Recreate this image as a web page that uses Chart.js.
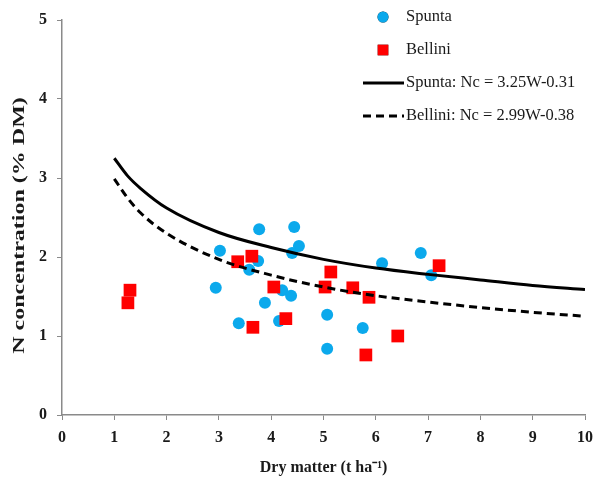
<!DOCTYPE html>
<html>
<head>
<meta charset="utf-8">
<script src="https://cdn.jsdelivr.net/npm/chart.js@4.4.1/dist/chart.umd.min.js"></script>
<style>
  html, body { margin: 0; padding: 0; background: #fff; }
</style>
</head>
<body>
<canvas id="myChart" width="595" height="482"></canvas>
<script>
// measured points (dry matter t/ha, N %)
const spuntaW = [3.77, 4.44, 3.02, 4.53, 4.40, 3.75, 3.58, 2.94, 4.21, 4.38, 3.88, 3.38, 4.15, 6.12, 5.07, 5.75, 5.07, 6.86, 7.06];
const spuntaN = [2.35, 2.38, 2.08, 2.14, 2.05, 1.95, 1.84, 1.61, 1.58, 1.51, 1.42, 1.16, 1.19, 1.92, 1.27, 1.10, 0.84, 2.05, 1.77];
const belliniW = [3.36, 3.63, 4.05, 4.28, 3.65, 5.14, 5.03, 5.56, 5.87, 6.42, 5.81, 7.21, 1.30, 1.26];
const belliniN = [1.94, 2.01, 1.62, 1.22, 1.11, 1.81, 1.62, 1.61, 1.49, 1.00, 0.76, 1.89, 1.58, 1.42];

// critical dilution curves
const curveW = [1, 1.25, 1.5, 2, 3, 4, 5, 6, 7, 8, 9, 10];
const spuntaCurve = [3.25, 3.03, 2.87, 2.62, 2.31, 2.12, 1.97, 1.86, 1.78, 1.71, 1.64, 1.59];
const belliniCurve = [2.99, 2.75, 2.56, 2.30, 1.97, 1.77, 1.62, 1.51, 1.43, 1.36, 1.30, 1.25];

const xTicks = [0, 1, 2, 3, 4, 5, 6, 7, 8, 9, 10];
const yTicks = [0, 1, 2, 3, 4, 5];

const toXY = (xs, ys) => xs.map((x, i) => ({x: x, y: ys[i]}));

const blue = '#0BA9EC';
const red = '#FF0000';
const axisGrey = '#8a8a8a';
const textDark = '#1a1a1a';

// legend drawn in the top right corner, like the original
const cornerLegend = {
  id: 'cornerLegend',
  afterDraw(chart) {
    const ctx = chart.ctx;
    const ds = chart.data.datasets;
    const rows = [
      {d: ds[3], y: 17},
      {d: ds[2], y: 50},
      {d: ds[0], y: 83},
      {d: ds[1], y: 116}
    ];
    ctx.save();
    ctx.font = '16.5px "Liberation Serif"';
    ctx.textBaseline = 'middle';
    rows.forEach(r => {
      const d = r.d;
      if (d.showLine) {
        ctx.strokeStyle = d.borderColor;
        ctx.lineWidth = d.borderWidth;
        ctx.setLineDash(d.borderDash || []);
        ctx.beginPath();
        ctx.moveTo(363, r.y);
        ctx.lineTo(404, r.y);
        ctx.stroke();
        ctx.setLineDash([]);
      } else {
        Chart.helpers.drawPoint(ctx, {
          pointStyle: d.pointStyle,
          radius: d.pointStyle === 'rect' ? 7.5 : 5.5,
          rotation: 0,
          borderWidth: 0
        }, 383, r.y);
        ctx.fillStyle = d.backgroundColor;
        ctx.fill();
      }
      ctx.fillStyle = textDark;
      ctx.fillText(d.label, 406, r.y);
    });
    ctx.restore();
  }
};

// y title is stretched along its length in the original
const yTitle = {
  id: 'yTitle',
  afterDraw(chart) {
    const ctx = chart.ctx;
    const area = chart.chartArea;
    ctx.save();
    ctx.translate(20, (area.top + area.bottom) / 2 + 8);
    ctx.rotate(-Math.PI / 2);
    ctx.scale(1.5, 1);
    ctx.font = 'bold 16px "Liberation Serif"';
    ctx.fillStyle = textDark;
    ctx.textAlign = 'center';
    ctx.textBaseline = 'middle';
    ctx.fillText('N concentration (% DM)', 0, 0);
    ctx.restore();
  }
};

const ctx = document.getElementById('myChart').getContext('2d');
const myChart = new Chart(ctx, {
  type: 'scatter',
  data: {
    datasets: [{
      label: 'Spunta: Nc = 3.25W-0.31',
      data: toXY(curveW, spuntaCurve),
      showLine: true,
      borderColor: '#000',
      borderWidth: 3,
      pointRadius: 0,
      cubicInterpolationMode: 'monotone'
    }, {
      label: 'Bellini: Nc = 2.99W-0.38',
      data: toXY(curveW, belliniCurve),
      showLine: true,
      borderColor: '#000',
      borderWidth: 3,
      borderDash: [8, 5],
      pointRadius: 0,
      cubicInterpolationMode: 'monotone'
    }, {
      label: 'Bellini',
      data: toXY(belliniW, belliniN),
      pointStyle: 'rect',
      pointRadius: 9,
      backgroundColor: red,
      borderWidth: 0
    }, {
      label: 'Spunta',
      data: toXY(spuntaW, spuntaN),
      pointStyle: 'circle',
      pointRadius: 6,
      backgroundColor: blue,
      borderWidth: 0
    }]
  },
  options: {
    responsive: false,
    animation: false,
    layout: {padding: {top: 20, right: 10, left: 0, bottom: 0}},
    plugins: {
      legend: {display: false},
      tooltip: {enabled: false}
    },
    scales: {
      x: {
        min: 0,
        max: 10,
        afterBuildTicks: s => { s.ticks = xTicks.map(v => ({value: v})); },
        afterFit: s => { s.height = 67; s.paddingRight = 0; s.paddingLeft = 0; },
        grid: {drawOnChartArea: false, drawTicks: true, tickLength: 5, color: axisGrey},
        border: {color: axisGrey, width: 1.5},
        ticks: {
          color: textDark,
          padding: 8,
          font: {family: 'Liberation Serif', size: 16, weight: 'bold'}
        },
        title: {
          display: true,
          text: 'Dry matter (t ha\u207B\u00B9)',
          color: textDark,
          padding: {bottom: 5},
          font: {family: 'Liberation Serif', size: 16, weight: 'bold'}
        }
      },
      y: {
        min: 0,
        max: 5,
        afterBuildTicks: s => { s.ticks = yTicks.map(v => ({value: v})); },
        afterFit: s => { s.width = 62; },
        grid: {drawOnChartArea: false, drawTicks: true, tickLength: 5, color: axisGrey},
        border: {color: axisGrey, width: 1.5},
        ticks: {
          color: textDark,
          padding: 10,
          font: {family: 'Liberation Serif', size: 16, weight: 'bold'}
        }
      }
    }
  },
  plugins: [cornerLegend, yTitle]
});
</script>
</body>
</html>
